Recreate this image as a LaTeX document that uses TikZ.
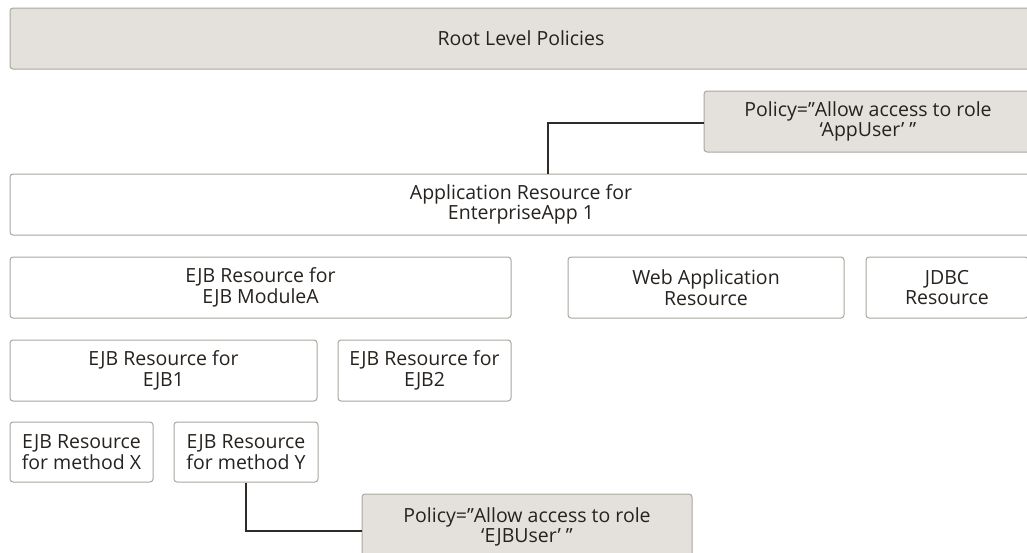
\documentclass[tikz,border=0pt]{standalone}
\usepackage{fontspec}
\setmainfont{Open Sans}
\definecolor{boxgray}{HTML}{E4E1DC}
\definecolor{bordergray}{HTML}{ABA7A0}
\definecolor{txt}{HTML}{26221F}
\definecolor{wire}{HTML}{2E2B28}
\begin{document}
\begin{tikzpicture}[x=1pt,y=-1pt,
  box/.style={draw=bordergray, line width=1pt, rounded corners=3pt, fill=white,
    align=center, inner sep=0pt, text=txt,
    font=\fontsize{19.5}{20.5}\selectfont},
  policy/.style={box, fill=boxgray},
  wirestyle/.style={draw=wire, line width=1.8pt}]
\useasboundingbox (0,0) rectangle (1027,552);
\clip (0,0) rectangle (1027,552);
\node[policy, minimum width=1022pt, minimum height=61pt] (root) at (521,38.5) {Root Level Policies};
\node[policy, minimum width=328pt, minimum height=61pt] (pol1) at (868,121.5) {Policy=”Allow access to role\\‘AppUser’ ”};
\node[box, minimum width=1022pt, minimum height=61pt] (app) at (521,204.5) {Application Resource for\\EnterpriseApp 1};
\node[box, minimum width=501pt, minimum height=61pt] (modA) at (260.5,287.5) {EJB Resource for\\EJB ModuleA};
\node[box, minimum width=276pt, minimum height=61pt] (web) at (706,287.5) {Web Application\\Resource};
\node[box, minimum width=162pt, minimum height=61pt] (jdbc) at (947,287.5) {JDBC\\Resource};
\node[box, minimum width=307pt, minimum height=61pt] (ejb1) at (163.5,370.5) {EJB Resource for\\EJB1};
\node[box, minimum width=173pt, minimum height=61pt] (ejb2) at (424.5,370.5) {EJB Resource for\\EJB2};
\node[box, minimum width=143pt, minimum height=60pt] (mX) at (81.5,452) {EJB Resource\\for method X};
\node[box, minimum width=144pt, minimum height=60pt] (mY) at (246,452) {EJB Resource\\for method Y};
\node[policy, minimum width=330pt, minimum height=66pt] (pol2) at (527,527) {Policy=”Allow access to role\\‘EJBUser’ ”};
\coordinate (c1) at (548,174);
\draw[wirestyle] ([yshift=-1.5pt]pol1.west) -| (c1);
\draw[wirestyle] (mY.south) |- ([yshift=-4pt]pol2.west);
\end{tikzpicture}
\end{document}
